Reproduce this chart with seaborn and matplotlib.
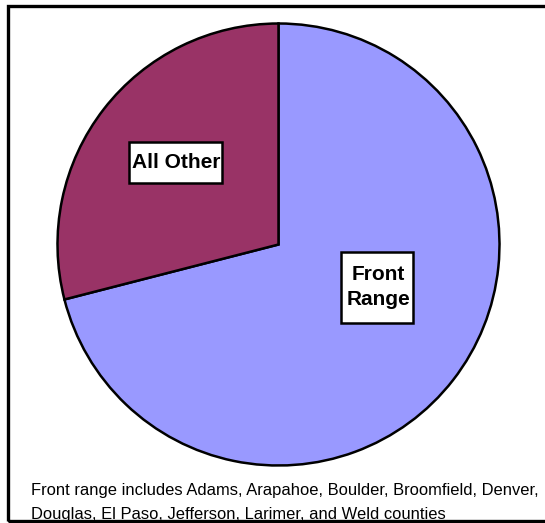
import matplotlib
matplotlib.use("Agg")
import matplotlib.pyplot as plt
import seaborn as sns
from matplotlib.patches import Rectangle

categories = ["Front\nRange", "All Other"]
shares = [71, 29]
colors = ["#9999FF", "#993366"]
note_lines = ["Front range includes Adams, Arapahoe, Boulder, Broomfield, Denver,",
              "Douglas, El Paso, Jefferson, Larimer, and Weld counties"]

sns.set_style("white")
plt.rcParams['font.family'] = ['Liberation Sans', 'DejaVu Sans']
plt.rcParams['text.color'] = 'black'

W, H = 545, 523
fig = plt.figure(figsize=(W / 100, H / 100), dpi=100)
cx, cy, r = 278.5, 244.5, 221.0
m = 1.02
ax = fig.add_axes([(cx - m * r) / W, (H - cy - m * r) / H, 2 * m * r / W, 2 * m * r / H])
wedges, _ = ax.pie(shares, colors=colors, startangle=90, counterclock=False,
                   wedgeprops=dict(edgecolor="black", linewidth=1.8))
ax.set_xlim(-m, m)
ax.set_ylim(-m, m)
ax.set_aspect("equal")
ax.axis("off")


def dx(px):
    return (px - cx) / r


def dy(py):
    return (cy - py) / r


def label(text, x0, y0, x1, y1, tx, ty):
    ax.add_patch(Rectangle((dx(x0), dy(y1)), (x1 - x0) / r, (y1 - y0) / r,
                           facecolor="white", edgecolor="black", linewidth=1.8, zorder=5))
    ax.text(dx(tx), dy(ty), text, ha="center", va="center", fontsize=15,
            fontweight="bold", zorder=6, linespacing=1.45)


label(categories[1], 129, 142, 222, 183, 176, 162.5)
label(categories[0], 341, 252, 413, 323, 378, 287)

fig.text(31 / W, 1 - 495.5 / H, note_lines[0], ha="left", va="baseline", fontsize=11.85)
fig.text(31 / W, 1 - 518.5 / H, note_lines[1], ha="left", va="baseline", fontsize=11.85)

frame = Rectangle((8 / W, 1 - 521 / H), 600 / W, (521 - 5.5) / H, transform=fig.transFigure,
                  fill=False, edgecolor="black", linewidth=2.4, zorder=10)
fig.patches.append(frame)

fig.savefig("out.png", dpi=100)
